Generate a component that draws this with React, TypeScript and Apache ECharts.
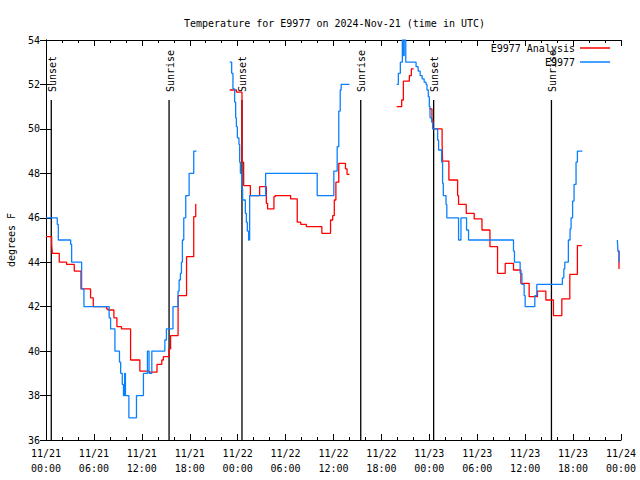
import React, { useEffect, useRef } from "react";
import * as echarts from "echarts";

// hours since 2024-11-21 00:00 UTC, temperature in °F (step data: value holds until next point)
const anaDay1: [number, number][] = [
  [0, 45.15], [0.71, 44.8], [0.79, 44.4], [1.66, 44.0], [2.58, 43.9], [3.54, 43.6],
  [4.38, 42.8], [5.58, 42.4], [5.92, 42.0], [7.6, 41.9], [7.75, 41.85], [8.5, 41.5],
  [8.88, 41.1], [9.45, 41.0], [10.59, 39.6], [11.75, 39.1], [12.9, 39.05], [13.9, 39.4],
  [14.5, 39.6], [14.7, 39.75], [15.4, 40.1], [15.6, 40.7], [16.54, 42.5], [17.6, 44.25],
  [18.5, 46.05], [18.75, 46.6], [18.84, 46.6],
];
const anaDay2: [number, number][] = [
  [23.0, 51.75], [23.84, 51.65], [24.54, 48.5], [24.75, 47.45], [25.59, 47.0], [26.75, 47.4],
  [27.59, 46.65], [27.75, 46.4], [28.54, 46.95], [28.7, 47.0], [30.63, 46.85], [31.46, 45.8],
  [31.9, 45.7], [32.6, 45.6], [34.54, 45.3], [35.63, 45.9], [35.9, 46.1], [36.1, 46.8],
  [36.3, 47.6], [36.66, 48.45], [37.5, 48.2], [37.7, 47.95], [38.0, 47.95],
];
const anaDay3a: [number, number][] = [
  [43.91, 51.0], [44.54, 51.3], [44.75, 52.15], [45.5, 52.4], [45.75, 52.7], [46.04, 52.7],
];
const anaDay3b: [number, number][] = [
  [47.98, 50.9], [48.33, 50.4], [48.45, 50.0], [49.6, 49.3], [49.66, 48.55], [50.45, 47.7],
  [51.54, 47.0], [51.66, 46.6], [52.62, 46.2], [53.62, 45.95], [54.59, 45.45], [55.59, 44.7],
  [56.54, 43.5], [57.5, 43.95], [58.54, 43.65], [59.46, 43.05], [60.5, 42.45], [61.54, 42.7],
  [62.59, 42.3], [63.54, 41.6], [64.59, 42.35], [65.59, 43.45], [66.54, 44.75], [67.09, 44.75],
];
const anaEnd: [number, number][] = [[71.58, 44.5], [71.75, 43.7], [71.8, 43.7]];

const obsDay1: [number, number][] = [
  [0, 46], [1.41, 45.7], [1.54, 45], [3.09, 44.8], [3.21, 44], [4.46, 42.8], [4.75, 42],
  [7.91, 41.5], [8.09, 41], [8.63, 40], [9.2, 39.5], [9.35, 39], [9.55, 38.5], [9.7, 38],
  [9.85, 39], [9.95, 38], [10.38, 37], [11.33, 38], [12.2, 39], [12.7, 40],
  [12.9, 39], [13.25, 40], [14.88, 40.5], [15.08, 41], [15.9, 42], [16.54, 42.7], [16.67, 43.2],
  [16.83, 43.5], [16.96, 44], [17.08, 45], [17.25, 46], [17.5, 47], [17.92, 48], [18.5, 49],
  [18.84, 49],
];
const obsDay2: [number, number][] = [
  [23.0, 53], [23.25, 52.5], [23.41, 51.8], [23.62, 51.2], [23.75, 50.5], [23.84, 50.1],
  [23.96, 49.6], [24.16, 49.3], [24.25, 48.5], [24.34, 48.0], [24.5, 47.3], [24.62, 46.8],
  [24.96, 46.2], [25.09, 45.8], [25.21, 45.4], [25.37, 45.0], [25.5, 47.0], [27.5, 48.0],
  [33.96, 47.0], [36.04, 48.1], [36.46, 49.2], [36.66, 50.8], [36.84, 51.75], [36.96, 52.0],
  [38.0, 52.0],
];
const obsDay3: [number, number][] = [
  [43.91, 52], [44.12, 52.5], [44.37, 53], [44.62, 54], [44.75, 53.3], [44.85, 54], [45.05, 53],
  [46.34, 52.8], [46.6, 52.6], [46.85, 52.4], [47.1, 52.25], [47.35, 52.1], [47.59, 52.0],
  [47.71, 51.75], [47.87, 51.45], [48.0, 51.0], [48.09, 50.5], [48.29, 50.3], [48.41, 50.0],
  [49.04, 49.5], [49.16, 49.05], [49.54, 48.5], [49.66, 47.55], [49.75, 47.0], [50.09, 46.6],
  [50.19, 46.0], [51.66, 45.0], [51.96, 46.0], [52.66, 45.45], [52.91, 45.0], [58.54, 44.5],
  [58.66, 44.0], [59.37, 43.5], [59.59, 43.0], [59.87, 42.5], [60.0, 42.0], [61.21, 42.5],
  [61.46, 43.0], [64.66, 43.3], [64.84, 43.7], [64.96, 44.0], [65.41, 45.0], [65.62, 45.5],
  [65.75, 46.0], [65.94, 46.75], [66.12, 47.5], [66.37, 48.5], [66.54, 49.0], [67.16, 49.0],
];
const obsEnd: [number, number][] = [[71.54, 45.0], [71.62, 44.5], [71.75, 44.0], [71.8, 44.0]];

const sunTimes = [0.66, 15.41, 24.54, 39.41, 48.54, 63.29];
const sunLabels = ["Sunset", "Sunrise", "Sunset", "Sunrise", "Sunset", "Sunrise"];

const titleText = "Temperature for E9977 on 2024-Nov-21 (time in UTC)";
const anaName = "E9977 Analysis";
const obsName = "E9977";
const yName = "degrees F";

const FONT = "DejaVu Sans Mono";
const RED = "#ff0000";
const BLUE = "#0a80ff";

const fmtX = (h: number) => {
  const d = 21 + Math.floor(h / 24);
  const hh = h % 24;
  return `11/${d}\n${String(hh).padStart(2, "0")}:00`;
};

export default function App() {
  const ref = useRef<HTMLDivElement>(null);
  useEffect(() => {
    if (!ref.current) return;
    const chart = echarts.init(ref.current, undefined, { renderer: "svg" });
    const lineSeries = (name: string, color: string, data: [number, number][], z: number) => ({
      type: "line",
      name,
      data,
      step: "end",
      symbol: "none",
      showSymbol: false,
      xAxisIndex: 0,
      yAxisIndex: 0,
      z,
      lineStyle: { color, width: 1.3 },
      itemStyle: { color },
      emphasis: { disabled: true },
    });
    const baseX = {
      type: "value",
      min: 0,
      max: 72,
      interval: 6,
      splitLine: { show: false },
      axisLine: { show: true, lineStyle: { color: "#000", width: 1 } },
      axisTick: { show: true, inside: true, length: 6, lineStyle: { color: "#000" } },
      minorTick: { show: true, splitNumber: 3, length: 3, lineStyle: { color: "#000" } },
    };
    const baseY = {
      type: "value",
      min: 36,
      max: 54,
      interval: 2,
      splitLine: { show: false },
      axisLine: { show: true, lineStyle: { color: "#000", width: 1 } },
      axisTick: { show: true, inside: true, length: 6, lineStyle: { color: "#000" } },
    };
    chart.setOption({
      animation: false,
      backgroundColor: "#fff",
      title: {
        text: titleText,
        left: 179,
        top: 13,
        textStyle: { fontFamily: FONT, fontSize: 10, fontWeight: "normal", color: "#000" },
      },
      legend: {
        data: [anaName, obsName],
        orient: "vertical",
        right: 30,
        top: 41,
        align: "right",
        icon: "rect",
        itemWidth: 30,
        itemHeight: 1.5,
        itemGap: 0,
        padding: 0,
        textStyle: { fontFamily: FONT, fontSize: 10, color: "#000", lineHeight: 14 },
      },
      grid: {
        left: 46,
        right: 19,
        top: 40,
        bottom: 40,
        containLabel: false,
        outerBoundsMode: "none",
      },
      xAxis: [
        {
          ...baseX,
          position: "bottom",
          axisLabel: {
            fontFamily: FONT,
            fontSize: 10,
            color: "#000",
            lineHeight: 15,
            margin: 6,
            formatter: (v: number) => fmtX(v),
          },
        },
        { ...baseX, position: "top", axisLabel: { show: false } },
      ],
      yAxis: [
        {
          ...baseY,
          position: "left",
          name: yName,
          nameLocation: "middle",
          nameGap: 30,
          nameRotate: 90,
          nameTextStyle: { fontFamily: FONT, fontSize: 10, color: "#000" },
          axisLabel: { fontFamily: FONT, fontSize: 10, color: "#000", margin: 6 },
        },
        { ...baseY, position: "right", axisLabel: { show: false } },
      ],
      series: [
        {
          type: "custom",
          name: "sun",
          xAxisIndex: 0,
          yAxisIndex: 0,
          z: 1,
          silent: true,
          data: sunTimes.map((t) => [t]),
          encode: { x: 0 },
          renderItem: (params: any, api: any) => {
            const t = api.value(0);
            const top = api.coord([t, 51.3]);
            const bottom = api.coord([t, 36]);
            return {
              type: "group",
              children: [
                {
                  type: "line",
                  shape: { x1: top[0], y1: top[1], x2: bottom[0], y2: bottom[1] },
                  style: { stroke: "#000", lineWidth: 1.3 },
                },
                {
                  type: "text",
                  x: top[0] + 1,
                  y: top[1] - 8,
                  rotation: Math.PI / 2,
                  style: {
                    text: sunLabels[params.dataIndex],
                    fill: "#000",
                    font: `10px '${FONT}'`,
                    align: "left",
                    verticalAlign: "middle",
                    textAlign: "left",
                    textVerticalAlign: "middle",
                  },
                },
              ],
            };
          },
        },
        lineSeries(anaName, RED, anaDay1, 2),
        lineSeries(anaName, RED, anaDay2, 2),
        lineSeries(anaName, RED, anaDay3a, 2),
        lineSeries(anaName, RED, anaDay3b, 2),
        lineSeries(anaName, RED, anaEnd, 2),
        lineSeries(obsName, BLUE, obsDay1, 3),
        lineSeries(obsName, BLUE, obsDay2, 3),
        lineSeries(obsName, BLUE, obsDay3, 3),
        lineSeries(obsName, BLUE, obsEnd, 3),
      ],
    });
    return () => chart.dispose();
  }, []);
  return <div ref={ref} style={{ width: 640, height: 480, position: "absolute", left: 0, top: 0 }} />;
}
